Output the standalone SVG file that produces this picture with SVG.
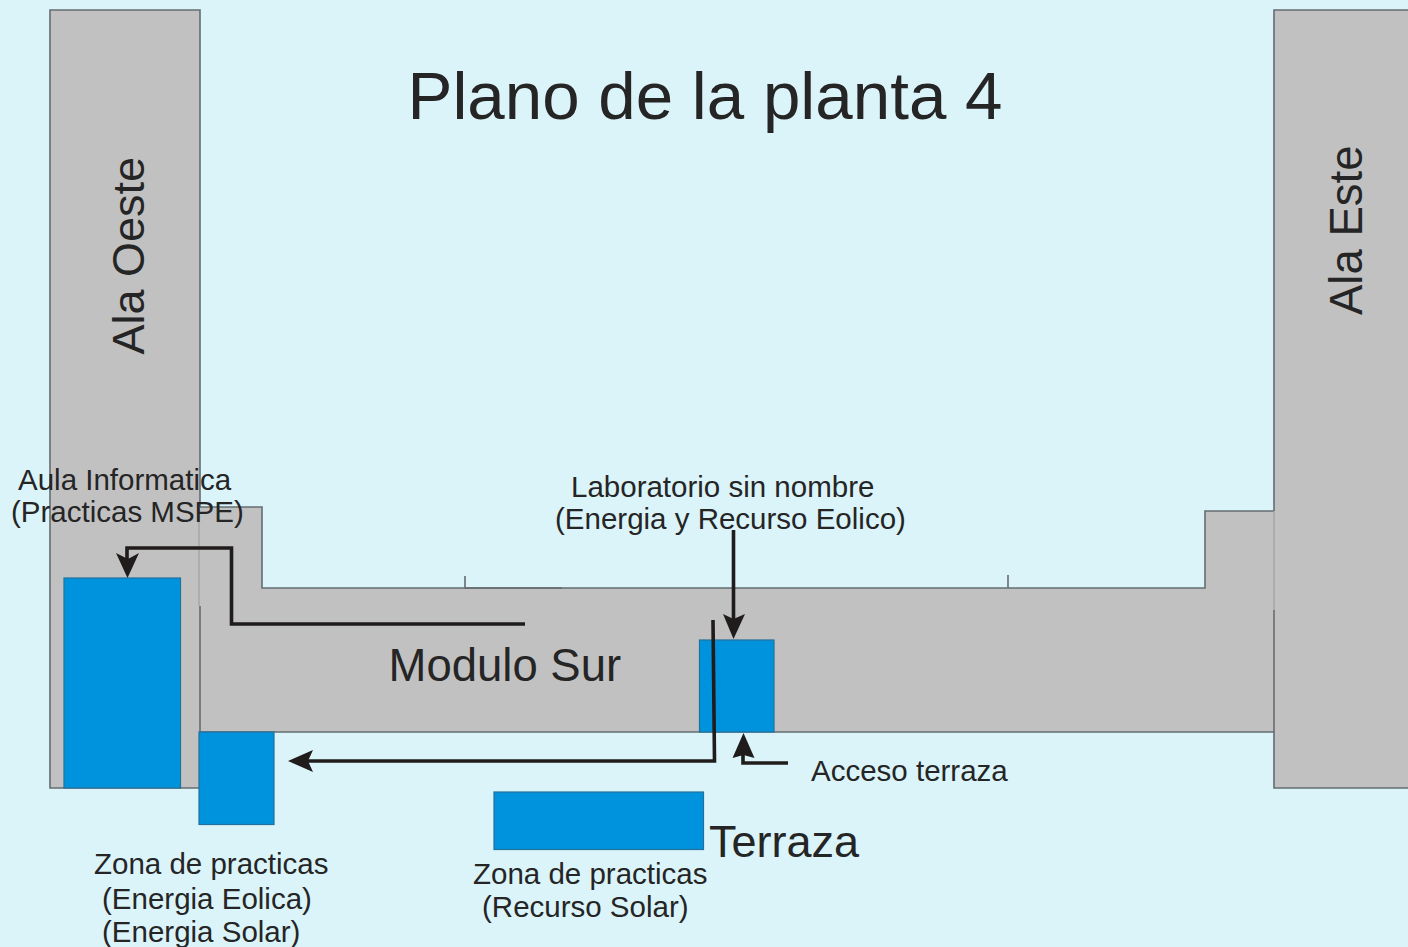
<svg xmlns="http://www.w3.org/2000/svg" width="1408" height="947" viewBox="0 0 1408 947">
<style>
text{font-family:"Liberation Sans",Arial,sans-serif;fill:#252525}
.wall{fill:#c1c1c1;stroke:none}
.edge{fill:none;stroke:#646c70;stroke-width:1.6}
.faint{fill:none;stroke:#9c9fa2;stroke-width:1.2}
.room{fill:#0093dd;stroke:#23709c;stroke-width:1.2}
.arrow{fill:none;stroke:#1f1c1b;stroke-width:3.6}
.head{fill:#1f1c1b}
.l{font-size:29.5px}
.m{font-size:45.5px}
</style>
<rect width="1408" height="947" fill="#daf4fa"/>
<g id="modulo-sur">
<path class="wall" d="M199 507H262V588H1205V511H1274V732H199Z"/>
<path class="edge" d="M199 507H262V588H1205V511H1274M199 732H1274"/>
<path class="edge" d="M465 576V588H562"/>
<path class="edge" d="M1008 575V588"/>
<text class="m" x="388.500" y="681">Modulo Sur</text>
</g>
<g id="ala-oeste">
<path class="wall" d="M50 10H200V788H50Z"/>
<path class="edge" d="M200 788H50V10H200V507"/>
<path class="faint" d="M199 507V606"/>
<path class="edge" d="M200 606V732"/>
<text class="m" style="font-size:45px" transform="translate(144 354.500) rotate(-90)">Ala Oeste</text>
</g>
<g id="ala-este">
<path class="wall" d="M1274 10H1408V788H1274Z"/>
<path class="edge" d="M1408 10H1274V511M1274 610V788H1408"/>
<path class="faint" d="M1274 511V610"/>
<text class="m" transform="translate(1361.500 315) rotate(-90)">Ala Este</text>
</g>
<text id="titulo" x="407.500" y="119" font-size="67.300">Plano de la planta 4</text>
<g id="aula-informatica">
<rect class="room" x="64" y="578" width="116.500" height="210"/>
<text class="l" x="18" y="490">Aula Informatica</text>
<text class="l" x="11" y="522">(Practicas MSPE)</text>
</g>
<g id="zona-eolica-solar">
<rect class="room" x="199" y="732" width="75" height="92.500"/>
<text class="l" x="94" y="874">Zona de practicas</text>
<text class="l" x="102" y="909">(Energia Eolica)</text>
<text class="l" x="102" y="942">(Energia Solar)</text>
</g>
<g id="laboratorio">
<rect class="room" x="699.500" y="640" width="74.500" height="92"/>
<text class="l" x="571" y="497">Laboratorio sin nombre</text>
<text class="l" x="555" y="529">(Energia y Recurso Eolico)</text>
</g>
<g id="zona-solar">
<rect class="room" x="494" y="792" width="209.500" height="57.500"/>
<text class="l" x="473" y="884">Zona de practicas</text>
<text class="l" x="482" y="917">(Recurso Solar)</text>
</g>
<text id="terraza" class="m" x="709" y="857" style="font-size:45px">Terraza</text>
<text id="acceso" class="l" x="811" y="781">Acceso terraza</text>
<g id="connectors">
<path class="arrow" d="M525 624H231.500V548H127V560"/>
<path class="head" d="M116 553L128 559L139 553L127.500 578Z"/>
<path class="arrow" d="M733.500 530V622"/>
<path class="head" d="M723 614L733.500 619L745 614L733.500 639Z"/>
<path class="arrow" d="M713 620L714.500 761H305"/>
<path class="head" d="M288 761L313 750L308 761L313 772Z"/>
<path class="arrow" d="M788 763H743V752"/>
<path class="head" d="M743.500 733L754.500 758L743.500 755L732.500 758Z"/>
</g>
</svg>
